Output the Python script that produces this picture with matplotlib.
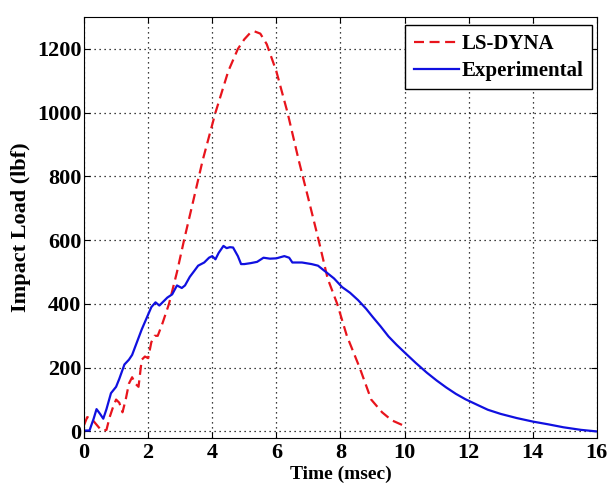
import matplotlib.pyplot as plt

plt.rcParams['font.family'] = ['Liberation Serif', 'DejaVu Serif']
plt.rcParams['font.weight'] = 'bold'

# simulated load history (msec, lbf)
t_dyna = [0.0, 0.1, 0.2, 0.3, 0.4, 0.5, 0.6, 0.7, 0.8, 0.9, 1.0, 1.1, 1.2, 1.3, 1.4, 1.5,
          1.6, 1.7, 1.8, 1.9, 2.0, 2.1, 2.2, 2.3, 2.45, 2.65, 2.9, 3.12, 3.4, 3.7, 4.1,
          4.5, 4.8, 5.0, 5.2, 5.32, 5.5, 5.7, 6.0, 6.35, 6.7, 7.0, 7.32, 7.6, 7.9, 8.2,
          8.6, 8.96, 9.3, 9.6, 10.0]
f_dyna = [20, 45, 40, 32, 20, 8, 2, 5, 45, 75, 100, 90, 60, 100, 150, 170, 150, 140,
          225, 235, 230, 280, 300, 300, 340, 400, 500, 600, 720, 850, 1000, 1130, 1200,
          1230, 1252, 1255, 1248, 1215, 1130, 1000, 850, 730, 600, 480, 400, 300, 200,
          100, 60, 35, 17]

# measured load history (msec, lbf)
t_exp = [0.0, 0.17, 0.3, 0.39, 0.5, 0.6, 0.7, 0.84, 1.0, 1.1, 1.26, 1.4, 1.5, 1.65, 1.8,
         1.95, 2.1, 2.23, 2.35, 2.45, 2.6, 2.75, 2.9, 3.05, 3.15, 3.3, 3.45, 3.56, 3.75,
         3.9, 4.0, 4.1, 4.2, 4.35, 4.45, 4.55, 4.65, 4.8, 4.9, 5.0, 5.2, 5.4, 5.6, 5.8,
         6.0, 6.25, 6.4, 6.5, 6.8, 7.1, 7.3, 7.55, 7.8, 8.05, 8.3, 8.55, 8.8, 9.0, 9.25,
         9.5, 9.75, 10.0, 10.35, 10.7, 11.0, 11.3, 11.6, 11.9, 12.3, 12.6, 13.0, 13.5,
         14.0, 14.5, 14.96, 15.5, 16.0]
f_exp = [3, 3, 40, 70, 55, 40, 70, 120, 140, 165, 210, 225, 240, 280, 320, 355, 390, 405,
         395, 405, 420, 430, 458, 450, 458, 485, 505, 520, 530, 545, 550, 540, 560, 582,
         575, 578, 577, 550, 525, 525, 528, 532, 545, 542, 543, 550, 545, 530, 530, 525,
         520, 500, 480, 453, 435, 412, 385, 360, 330, 298, 272, 248, 215, 184, 160, 138,
         118, 101, 82, 68, 55, 42, 31, 22, 13, 5, 0]

fig = plt.figure(figsize=(6.09, 4.87), dpi=100)
ax = fig.add_axes([0.138, 0.101, 0.842, 0.864])

ax.plot(t_dyna, f_dyna, color='#e8141c', ls='--', lw=1.6, dashes=(4.5, 2.5), label='LS-DYNA')
ax.plot(t_exp, f_exp, color='#1010e0', lw=1.6, label='Experimental')

ax.set_xlim(0, 16)
ax.set_ylim(-20, 1300)
ax.set_xticks(range(0, 17, 2))
ax.set_yticks(range(0, 1201, 200))
ax.tick_params(direction='in', top=True, right=True, labelsize=16, length=4)
ax.tick_params(axis='y', pad=2)
ax.tick_params(axis='x', pad=4)
for lab in ax.get_xticklabels() + ax.get_yticklabels():
    lab.set_fontweight('bold')
ax.grid(True, color='black', ls=(0, (1, 3)), lw=0.9)

ax.set_xlabel('Time (msec)', fontsize=14, fontweight='bold', labelpad=2)
ax.set_ylabel('Impact Load (lbf)', fontsize=16, fontweight='bold', labelpad=4)

leg = ax.legend(loc='upper right', bbox_to_anchor=(0.99, 0.98), fontsize=15,
                handlelength=2.2, handletextpad=0.1, borderaxespad=0, fancybox=False,
                framealpha=1, borderpad=0.4, labelspacing=0.35)
leg.get_frame().set_edgecolor('black')
leg.get_frame().set_linewidth(1.0)

fig.savefig('out.png', dpi=100)
